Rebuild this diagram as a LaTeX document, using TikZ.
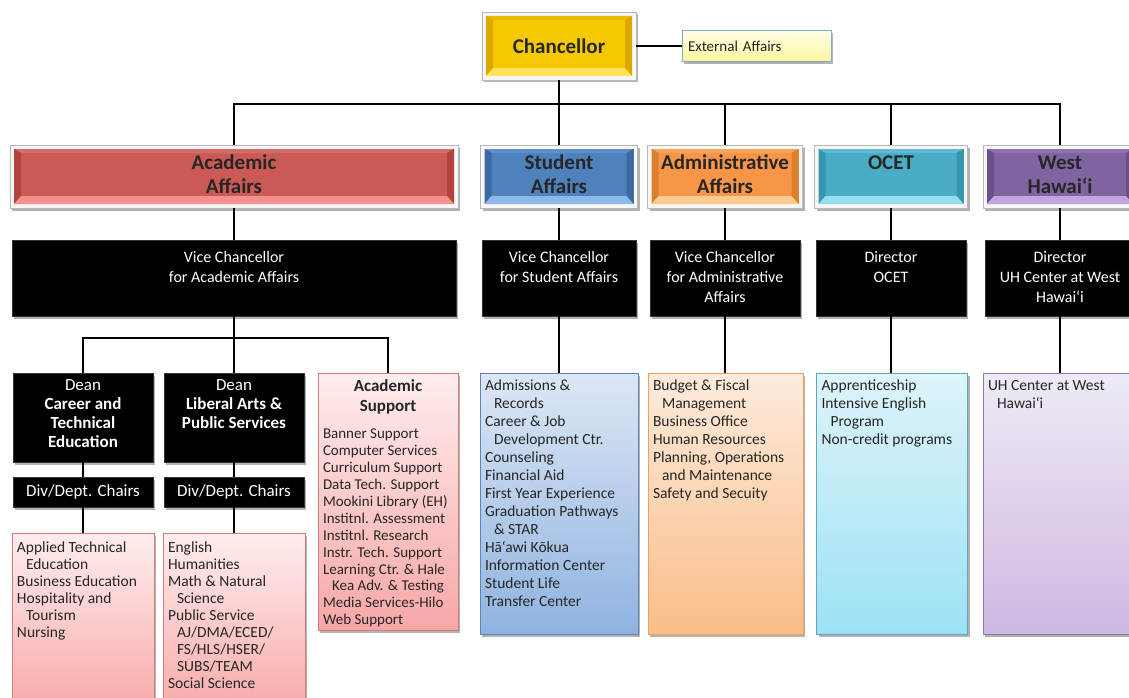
\documentclass[tikz,border=0pt]{standalone}
\usepackage{fontspec}
\setmainfont{Carlito}
\usetikzlibrary{calc,shadows}

\definecolor{chM}{HTML}{F5C800}\definecolor{chT}{HTML}{EBBB00}\definecolor{chD}{HTML}{DBA800}\definecolor{chL}{HTML}{FFE35A}
\definecolor{acM}{HTML}{CB5A57}\definecolor{acT}{HTML}{D46C69}\definecolor{acD}{HTML}{B3433F}\definecolor{acL}{HTML}{F4908D}
\definecolor{stM}{HTML}{4F81BD}\definecolor{stT}{HTML}{5E8FCB}\definecolor{stD}{HTML}{3C69A0}\definecolor{stL}{HTML}{8DB8EA}
\definecolor{adM}{HTML}{F79646}\definecolor{adT}{HTML}{F9A35A}\definecolor{adD}{HTML}{DD7D2E}\definecolor{adL}{HTML}{FBCB92}
\definecolor{ocM}{HTML}{4BACC6}\definecolor{ocT}{HTML}{5DBAD3}\definecolor{ocD}{HTML}{3795AE}\definecolor{ocL}{HTML}{95DEF1}
\definecolor{wsM}{HTML}{8064A2}\definecolor{wsT}{HTML}{8D72AF}\definecolor{wsD}{HTML}{6A4F8B}\definecolor{wsL}{HTML}{BFA7DE}
\definecolor{laT}{HTML}{FFEDED}\definecolor{laB}{HTML}{F6A7A6}\definecolor{laD}{HTML}{CF7C7A}
\definecolor{lsT}{HTML}{DDE7F5}\definecolor{lsB}{HTML}{8FB3E0}\definecolor{lsD}{HTML}{5C86BA}
\definecolor{ldT}{HTML}{FEEBDC}\definecolor{ldB}{HTML}{F9BD88}\definecolor{ldD}{HTML}{E8A263}
\definecolor{loT}{HTML}{DEF4FA}\definecolor{loB}{HTML}{9CE1F4}\definecolor{loD}{HTML}{5EA8BD}
\definecolor{lwT}{HTML}{EFEAF5}\definecolor{lwB}{HTML}{CDB9E3}\definecolor{lwD}{HTML}{8F76AE}
\definecolor{exT}{HTML}{FFFFE6}\definecolor{exB}{HTML}{FFF59E}\definecolor{exD}{HTML}{7FAFC4}

\newcommand\ind{\hspace*{9pt}}
\newcommand\vcbox[3]{\parbox[c][#2pt][t]{#1pt}{\centering\vspace*{11pt}#3\par}}
\newcommand\listbox[4]{\parbox[c][#2pt][t]{#1pt}{\raggedright\leftskip=5pt\vspace*{#3pt}#4\par}}
\newcommand\hdtext[1]{\raisebox{2pt}{\begin{tabular}{@{}c@{}}#1\end{tabular}}}

\tikzset{
  conn/.style={line width=2.8pt, black},
  shad/.style={drop shadow={shadow xshift=2pt, shadow yshift=-2.5pt, opacity=0.3, fill=black}},
  bevel/.style n args={4}{draw=black!28, line width=0.7pt, fill=black!3, shad, inner sep=0pt,
    text=black!85, align=center,
    path picture={
      \path (path picture bounding box.south west) coordinate (q1)
            (path picture bounding box.north east) coordinate (q3);
      \path (q1 -| q3) coordinate (q2) (q3 -| q1) coordinate (q4);
      \fill[#1] ($(q1)+(4pt,4pt)$) rectangle ($(q3)+(-4pt,-4pt)$);
      \fill[#2] ($(q4)+(4pt,-4pt)$) -- ($(q3)+(-4pt,-4pt)$) -- ($(q3)+(-11pt,-8pt)$) -- ($(q4)+(11pt,-8pt)$) -- cycle;
      \fill[#3] ($(q1)+(4pt,4pt)$) -- ($(q1)+(11pt,12pt)$) -- ($(q4)+(11pt,-8pt)$) -- ($(q4)+(4pt,-4pt)$) -- cycle;
      \fill[#3] ($(q2)+(-4pt,4pt)$) -- ($(q2)+(-11pt,12pt)$) -- ($(q3)+(-11pt,-8pt)$) -- ($(q3)+(-4pt,-4pt)$) -- cycle;
      \fill[#4] ($(q1)+(4pt,4pt)$) -- ($(q2)+(-4pt,4pt)$) -- ($(q2)+(-11pt,12pt)$) -- ($(q1)+(11pt,12pt)$) -- cycle;
    }},
  hdr/.style={font=\bfseries\fontsize{21}{24}\selectfont, minimum height=63pt},
  blk/.style={fill=black, draw=black!80, shad, inner sep=0pt, text=white, font=\fontsize{16}{20}\selectfont},
  lst/.style n args={3}{top color=#1, bottom color=#2, draw=#3, line width=0.8pt, shad,
    inner sep=0pt, text=black!85},
  ext/.style={top color=exT, bottom color=exB, draw=exD, line width=0.8pt, shad,
    inner xsep=6pt, inner ysep=0pt, text width=137pt, align=left, text=black!85,
    font=\fontsize{15}{18}\selectfont}
}

\begin{document}
\begin{tikzpicture}[x=1pt,y=-1pt]
\useasboundingbox (0,0) rectangle (1129,698);
\clip (0,0) rectangle (1129,698);
\fill[white] (0,0) rectangle (1129,698);

% top
\node[bevel={chM}{chT}{chD}{chL}, minimum width=154pt, minimum height=68pt,
      font=\bfseries\fontsize{21}{24}\selectfont] (chanc) at (559,46) {Chancellor};
\node[ext, minimum height=31pt] (ext) at (756.5,46) {External Affairs};

% headers
\node[bevel={acM}{acT}{acD}{acL}, hdr, minimum width=448pt] (acad) at (234,176.5) {\hdtext{Academic\\Affairs}};
\node[bevel={stM}{stT}{stD}{stL}, hdr, minimum width=157pt] (stud) at (559,176.5) {\hdtext{Student\\Affairs}};
\node[bevel={adM}{adT}{adD}{adL}, hdr, minimum width=155pt] (admin) at (725,176.5) {\hdtext{Administrative\\Affairs}};
\node[bevel={ocM}{ocT}{ocD}{ocL}, hdr, minimum width=153pt] (ocet) at (891,176.5) {\hdtext{OCET\\\phantom{Affairs}}};
\node[bevel={wsM}{wsT}{wsD}{wsL}, hdr, minimum width=154pt] (west) at (1060,176.5) {\hdtext{West\\Hawai‘i}};

% vice chancellors / directors
\node[blk] (avc) at (234,278) {\vcbox{444}{76}{Vice Chancellor\\for Academic Affairs}};
\node[blk] (svc) at (559,278) {\vcbox{154}{76}{Vice Chancellor\\for Student Affairs}};
\node[blk] (dvc) at (725,278) {\vcbox{150}{76}{Vice Chancellor\\for Administrative\\Affairs}};
\node[blk] (ovc) at (891,278) {\vcbox{150}{76}{Director\\OCET}};
\node[blk] (wvc) at (1060,278) {\vcbox{150}{76}{Director\\UH Center at West\\Hawai‘i}};

% deans
\node[blk, font=\fontsize{17}{19}\selectfont] (ctedean) at (83,417.5)
  {\parbox[c][89pt][t]{140pt}{\centering\vspace*{7pt}Dean\\{\bfseries Career and\\Technical\\Education}\par}};
\node[blk, font=\fontsize{17}{19}\selectfont] (lapsdean) at (234,417.5)
  {\parbox[c][89pt][t]{140pt}{\centering\vspace*{7pt}Dean\\{\bfseries Liberal Arts \&\\Public Services}\par}};
\node[blk, font=\fontsize{17}{19}\selectfont, minimum width=140pt, minimum height=30pt] (ctechair) at (83,492) {Div/Dept. Chairs};
\node[blk, font=\fontsize{17}{19}\selectfont, minimum width=140pt, minimum height=30pt] (lapschair) at (234,492) {Div/Dept. Chairs};

% academic lists
\node[lst={laT}{laB}{laD}, font=\fontsize{15.5}{17}\selectfont] (ctelist) at (83,626.5)
  {\listbox{142}{187}{9}{Applied Technical\\\ind Education\\Business Education\\Hospitality and\\\ind Tourism\\Nursing}};
\node[lst={laT}{laB}{laD}, font=\fontsize{15.5}{17}\selectfont] (lapslist) at (234,626.5)
  {\listbox{142}{187}{9}{English\\Humanities\\Math \& Natural\\\ind Science\\Public Service\\\ind AJ/DMA/ECED/\\\ind FS/HLS/HSER/\\\ind SUBS/TEAM\\Social Science}};
\node[lst={laT}{laB}{laD}] (acsup) at (388,501.5)
  {\parbox[c][257pt][t]{140pt}{\centering\vspace*{7pt}\bfseries\fontsize{17}{20}\selectfont Academic\\Support\par
   \vspace{10pt}\raggedright\leftskip=5pt\mdseries\fontsize{15}{16.9}\selectfont
   Banner Support\\Computer Services\\Curriculum Support\\Data Tech. Support\\Mookini Library (EH)\\Institnl. Assessment\\Institnl. Research\\Instr. Tech. Support\\Learning Ctr. \& Hale\\\ind Kea Adv. \& Testing\\Media Services-Hilo\\Web Support\par}};

% other lists
\node[lst={lsT}{lsB}{lsD}, font=\fontsize{15.5}{18}\selectfont] (slist) at (559,503.5)
  {\listbox{158}{261}{7}{Admissions \&\\\ind Records\\Career \& Job\\\ind Development Ctr.\\Counseling\\Financial Aid\\First Year Experience\\Graduation Pathways\\\ind \& STAR\\Hā‘awi Kōkua\\Information Center\\Student Life\\Transfer Center}};
\node[lst={ldT}{ldB}{ldD}, font=\fontsize{15.5}{18}\selectfont] (dlist) at (725.5,503.5)
  {\listbox{155}{261}{7}{Budget \& Fiscal\\\ind Management\\Business Office\\Human Resources\\Planning, Operations\\\ind and Maintenance\\Safety and Secuity}};
\node[lst={loT}{loB}{loD}, font=\fontsize{15.5}{18}\selectfont] (olist) at (892,503.5)
  {\listbox{151}{261}{7}{Apprenticeship\\Intensive English\\\ind Program\\Non-credit programs}};
\node[lst={lwT}{lwB}{lwD}, font=\fontsize{15.5}{18}\selectfont] (wlist) at (1060,503.5)
  {\listbox{154}{261}{7}{UH Center at West\\\ind Hawai‘i}};

% connectors
\coordinate (tbus) at (559,104);
\coordinate (abus) at (234,338);
\draw[conn] (chanc.east) -- (ext.west);
\draw[conn] (chanc.south) -- (stud.north);
\draw[conn] (acad.north) |- (tbus) -| (west.north);
\draw[conn] (admin.north) -- (admin.north |- tbus);
\draw[conn] (ocet.north) -- (ocet.north |- tbus);
\draw[conn] (acad.south) -- (avc.north);
\draw[conn] (stud.south) -- (svc.north);
\draw[conn] (admin.south) -- (dvc.north);
\draw[conn] (ocet.south) -- (ovc.north);
\draw[conn] (west.south) -- (wvc.north);
\draw[conn] (svc.south) -- (slist.north);
\draw[conn] (dvc.south) -- (dvc.south |- dlist.north);
\draw[conn] (ovc.south) -- (ovc.south |- olist.north);
\draw[conn] (wvc.south) -- (wlist.north);
\draw[conn] (avc.south) -- (lapsdean.north);
\draw[conn] (ctedean.north) |- (abus) -| (acsup.north);
\draw[conn] (ctedean.south) -- (ctechair.north);
\draw[conn] (lapsdean.south) -- (lapschair.north);
\draw[conn] (ctechair.south) -- (ctelist.north);
\draw[conn] (lapschair.south) -- (lapslist.north);
\end{tikzpicture}
\end{document}
